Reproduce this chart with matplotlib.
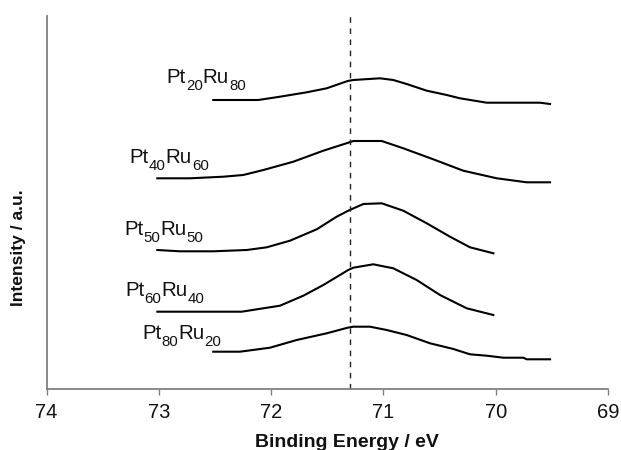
import matplotlib
matplotlib.use("Agg")
import matplotlib.pyplot as plt
from matplotlib.transforms import offset_copy

plt.rcParams['font.family'] = ['Liberation Sans', 'DejaVu Sans']

# ---- data (binding energy in eV, intensity in arbitrary offset units) ----
label_parts = [('Pt', '20', 'Ru', '80'), ('Pt', '40', 'Ru', '60'), ('Pt', '50', 'Ru', '50'),
               ('Pt', '60', 'Ru', '40'), ('Pt', '80', 'Ru', '20')]

e1 = [72.515, 72.114, 71.921, 71.683, 71.505, 71.318, 71.268, 71.030, 70.912, 70.793,
      70.614, 70.436, 70.318, 70.080, 69.605, 69.516]
i1 = [289, 289, 292.3, 296.7, 300.7, 308, 309, 310.7, 309, 305,
      298.3, 294, 290.7, 286.3, 286.3, 285]

e2 = [73.013, 72.722, 72.426, 72.248, 72.069, 71.802, 71.535, 71.313, 71.268, 71.015,
      70.823, 70.556, 70.289, 69.991, 69.724, 69.516]
i2 = [210.7, 210.7, 212.3, 214, 219, 227.3, 238.3, 246.3, 248, 248,
      240.7, 229.7, 218.3, 210.7, 206.7, 206.7]

e3 = [73.013, 72.811, 72.515, 72.217, 72.039, 71.832, 71.594, 71.416, 71.313, 71.179,
      71.015, 70.823, 70.614, 70.407, 70.229, 70.021]
i3 = [139, 137.7, 137.7, 139, 141.7, 148.3, 159.7, 172.3, 178.3, 185,
      185.7, 178.3, 165.7, 152.3, 141.7, 135.7]

e4 = [73.013, 72.262, 71.921, 71.713, 71.535, 71.313, 71.268, 71.090, 70.912, 70.704,
      70.496, 70.258, 70.021]
i4 = [77.3, 77.3, 83.3, 93.3, 104, 119, 121.3, 124.7, 120.7, 109,
      94, 80.7, 74]

e5 = [72.515, 72.277, 72.010, 71.772, 71.505, 71.318, 71.268, 71.119, 70.971, 70.793,
      70.585, 70.377, 70.229, 70.080, 69.932, 69.754, 69.724, 69.516]
i5 = [37.3, 37.3, 41.3, 49, 55.7, 61.3, 62.3, 62.3, 59, 54,
      45.7, 40, 34.7, 33.3, 31.3, 31.3, 29.7, 29.7]

energies = [e1, e2, e3, e4, e5]
intensities = [i1, i2, i3, i4, i5]

# label anchor positions (energy of left edge, baseline intensity)
label_x = [72.93, 73.26, 73.31, 73.30, 73.15]
label_y = [306, 226, 154, 93, 50]

ref_energy = 71.3
xticks = [74, 73, 72, 71, 70, 69]

# ---- figure ----
fig = plt.figure(figsize=(6.21, 4.5), dpi=100)
ax = fig.add_axes([46.5 / 621, 61 / 450, (608 - 46.5) / 621, 373 / 450])

for e, i in zip(energies, intensities):
    ax.plot(e, i, color='black', lw=1.5, solid_joinstyle='round')

ax.axvline(ref_energy, ymin=0, ymax=377 / 373, color='#222222', lw=1.0,
           linestyle=(0, (4, 4)), clip_on=False)

ax.set_xlim(74, 69)
ax.set_ylim(0, 373)
ax.set_xticks(xticks)
ax.set_xticklabels([str(t) for t in xticks])
ax.set_yticks([])

for s in ['top', 'right']:
    ax.spines[s].set_visible(False)
for s in ['left', 'bottom']:
    ax.spines[s].set_color('#808080')
    ax.spines[s].set_linewidth(1.3)

ax.tick_params(axis='x', direction='out', length=4, width=1.0, color='#808080',
               labelsize=14.5, pad=6, labelcolor='#111111')

# labels with manual subscripts
fig.canvas.draw()
renderer = fig.canvas.get_renderer()
main_fs = 14.8
sub_fs = 10.8
sub_drop = 5.0  # points
for parts, x, y in zip(label_parts, label_x, label_y):
    dx = 0.0
    for k, part in enumerate(parts):
        is_sub = (k % 2 == 1)
        tr = offset_copy(ax.transData, fig=fig, x=dx, y=-sub_drop if is_sub else 0,
                         units='points')
        t = ax.text(x, y, part, fontsize=sub_fs if is_sub else main_fs,
                    ha='left', va='baseline', color='#111111', transform=tr)
        bb = t.get_window_extent(renderer=renderer)
        dx += bb.width * 72.0 / fig.dpi

fig.text(346.6 / 621, 3 / 450, 'Binding Energy / eV', fontsize=14, fontweight='bold',
         ha='center', va='baseline', color='#111111')
fig.text(19 / 621, 202 / 450, 'Intensity / a.u.', fontsize=12.6, fontweight='bold',
         ha='center', va='center', rotation=90, color='#111111')

fig.savefig('out.png', dpi=100)
